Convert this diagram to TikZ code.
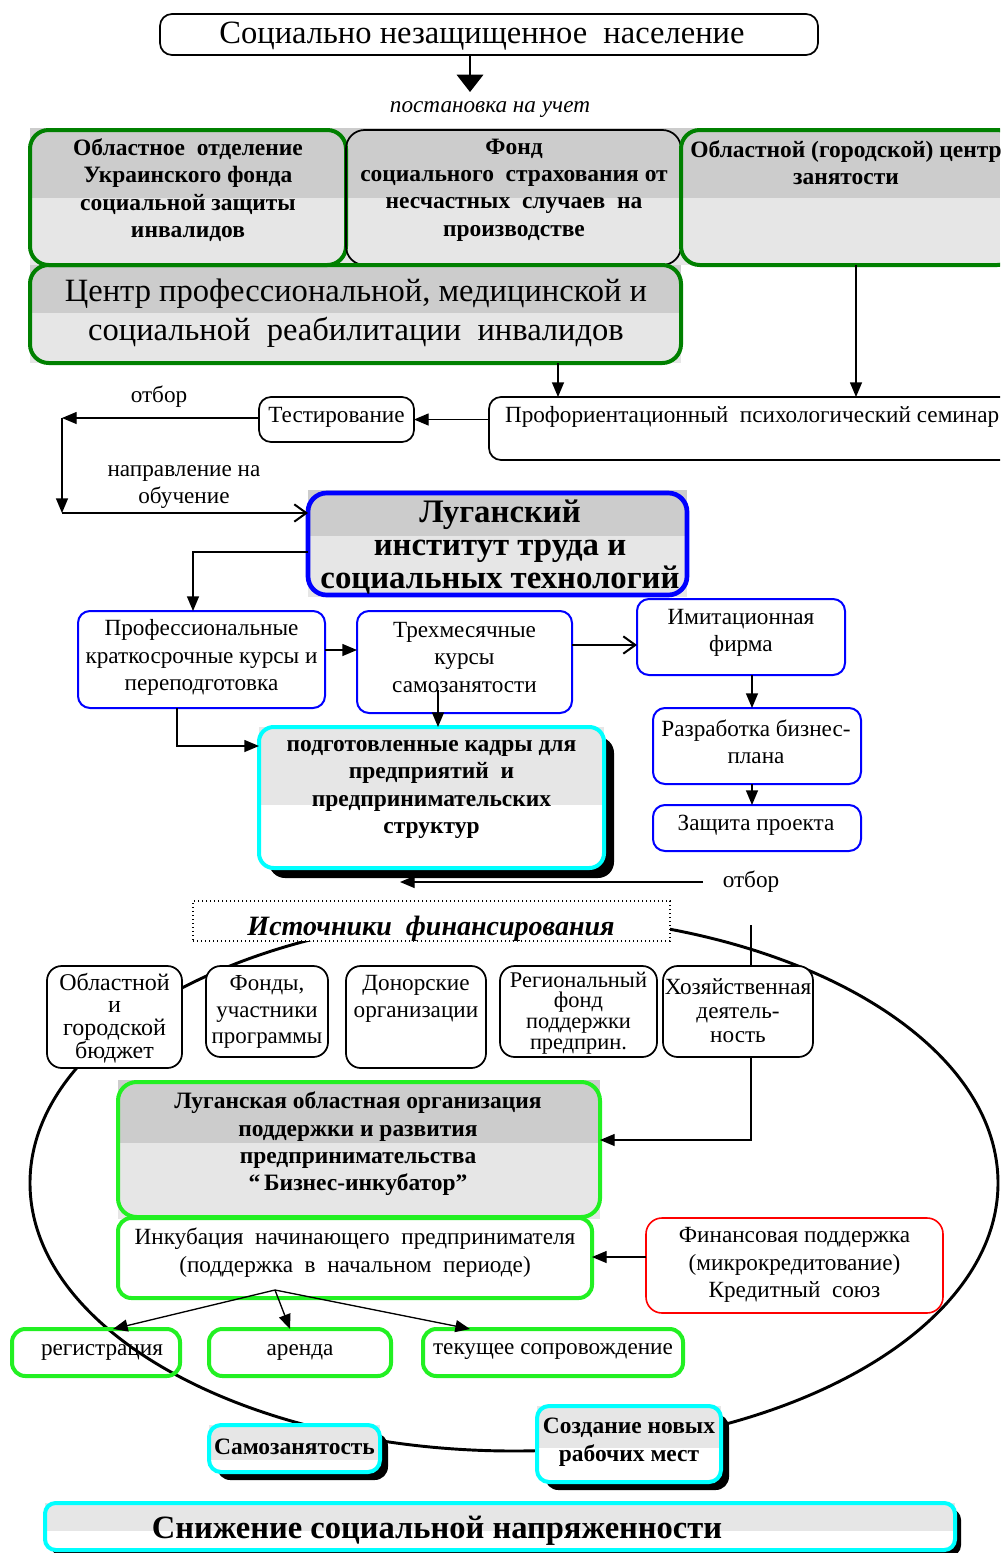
\documentclass[tikz,border=0pt]{standalone}
\usepackage{fontspec}
\setmainfont{Liberation Serif}
\usetikzlibrary{arrows.meta,calc}
\newcommand\fz[2]{\fontsize{#1}{#2}\selectfont}
\definecolor{dg}{HTML}{CCCCCC}
\definecolor{lg}{HTML}{E6E6E6}
\definecolor{dgreen}{HTML}{008000}
\definecolor{lgreen}{HTML}{22F022}
\definecolor{cy}{HTML}{00FFFF}
\definecolor{bl}{HTML}{0000FF}
\definecolor{rd}{HTML}{FF0000}
\tikzset{
  every node/.style={inner sep=0pt,outer sep=0pt},
  sz/.style 2 args={minimum width=#1*0.75pt,minimum height=#2*0.75pt},
  kbox/.style={draw=black,line width=1.3pt,rounded corners=9pt},
  ggbox/.style={draw=dgreen,line width=3pt,rounded corners=14pt},
  lgbox/.style={draw=lgreen,line width=3pt,rounded corners=10pt},
  bbox/.style={draw=bl,line width=1.5pt,rounded corners=9pt},
  cbox/.style={draw=cy,line width=3pt,rounded corners=11pt},
  arr/.style={line width=1pt,-{Triangle[length=11pt,width=9pt]}},
  oarr/.style={line width=1.5pt,-{Straight Barb[length=9pt,width=13pt,line width=1.5pt]}},
  ln/.style={line width=1pt},
  txt/.style={font=\fz{17.4}{20.5},align=center},
  btxt/.style={font=\fz{17.6}{20.5}\bfseries,align=center},
}
\begin{document}
\begin{tikzpicture}[x=0.75pt,y=-0.75pt]
\path[use as bounding box] (0,0) rectangle (1000,1553);
\clip (0,0) rectangle (1000,1553);
\fill[white] (0,0) rectangle (1000,1553);

% top
\node[kbox,sz={658}{41}] (top) at (489,34.5) {};
\node[font=\fz{24.4}{28}] (ttop) at (482,36) {Социально незащищенное\ \ население};
\coordinate (c1) at (470,92);
\draw[line width=1pt,-{Triangle[length=13pt,width=20pt]}] (top.south -| c1) -- (c1);
\node[font=\fz{17.4}{20}\itshape] (lpost) at (490,110) {постановка на учет};

% row of three
\fill[dg] (30,128) rectangle (1000,198);
\fill[lg] (30,198) rectangle (1000,265);
\fill[dg] (30,265) rectangle (681,313);
\fill[lg] (30,313) rectangle (681,363);
\node[ggbox,sz={316}{135}] (A) at (188,197.5) {};
\node[kbox,rounded corners=14pt,sz={335}{135}] (B) at (513.5,197.5) {};
\node[ggbox,sz={335}{135}] (C) at (848.5,197.5) {};
\node[btxt] (tA) at (188,190) {Областное\ \ отделение\\Украинского фонда\\социальной защиты\\инвалидов};
\node[btxt] (tB) at (514,190) {Фонд\\социального\ \ страхования от\\несчастных\ \ случаев\ \ на\\производстве};
\node[btxt] (tC) at (846,163) {Областной (городской) центр\\занятости};
\node[ggbox,sz={651}{98}] (D) at (355.5,314) {};
\node[font=\fz{24.4}{29.5},align=center] (tD) at (356,313) {Центр профессиональной, медицинской и\\социальной\ \ реабилитации\ \ инвалидов};

% seminar and testing
\node[kbox,sz={526}{63}] (sem) at (752,428.5) {};
\node[font=\fz{17.4}{20},anchor=west] (tsem) at (505,417) {Профориентационный\ \ психологический семинар};
\node[kbox,sz={155}{45}] (test) at (336.5,419.5) {};
\node[font=\fz{17.4}{20}] (ttest) at (336.5,417) {Тестирование};
\draw[arr] (D.south -| 558,0) -- (sem.north -| 558,0);
\draw[arr] (C.south -| 856,0) -- (sem.north -| 856,0);
\draw[arr] (sem.west |- test.center) -- (test.east);
\coordinate (L1) at (62,418);
\coordinate (L2) at (62,513);
\draw[arr] (test.west |- L1) -- (L1);
\draw[arr] (L1) -- (L2);
\node[font=\fz{17.4}{20}] (lotb1) at (159,397) {отбор};
\node[font=\fz{17.4}{20.5},align=center] (lnapr) at (184,487) {направление на\\обучение};

% Lugansk institute
\fill[dg] (308,490) rectangle (687,536);
\fill[lg] (308,536) rectangle (687,597);
\node[draw=bl,line width=3.5pt,rounded corners=14pt,sz={379}{102}] (lug) at (497.5,544) {};
\node[font=\fz{24.6}{24.5}\bfseries,align=center] (tlug) at (500,547) {Луганский\\институт труда и\\социальных технологий};
\draw[oarr] (L2) -- (lug.west |- L2);

% courses
\node[bbox,sz={247}{97}] (prof) at (201.5,659.5) {};
\node[txt] (tprof) at (201.5,657.5) {Профессиональные\\краткосрочные курсы и\\переподготовка};
\node[bbox,sz={215}{102}] (trex) at (464.5,662) {};
\node[txt] (ttrex) at (464.5,657.5) {Трехмесячные\\курсы\\самозанятости};
\node[bbox,sz={208}{76}] (imit) at (741,637) {};
\node[txt] (timit) at (741,633) {Имитационная\\фирма};
\node[bbox,sz={208}{76}] (razr) at (757,746) {};
\node[txt] (trazr) at (756,741.5) {Разработка бизнес-\\плана};
\node[bbox,sz={208}{46}] (zash) at (757,828) {};
\node[txt] (tzash) at (756,825) {Защита проекта};
\draw[arr] (lug.west |- 0,552) -| (prof.north -| 193,0);
\draw[arr] (prof.east |- 0,650) -- (trex.west |- 0,650);
\draw[oarr] (trex.east |- 0,645) -- (imit.west |- 0,645);
\draw[arr] (imit.south -| 752,0) -- (razr.north -| 752,0);
\draw[arr] (razr.south -| 752,0) -- (zash.north -| 752,0);

% prepared staff
\fill[black,rounded corners=12pt] (269,737) rectangle (614,878);
\fill[white,rounded corners=12pt] (259,727) rectangle (604,868);
\fill[lg] (259,727) rectangle (604,805);
\node[cbox,sz={345}{141}] (podg) at (431.5,797.5) {};
\node[btxt] (tpodg) at (431.5,789.5) {подготовленные кадры для\\предприятий\ \ и\\предпринимательских\\структур};
\coordinate (t3) at (438,690);
\draw[arr] (t3) -- (podg.north -| t3);
\draw[arr] (prof.south -| 177,0) |- (podg.west |- 0,746);
\node[font=\fz{17.4}{20}] (lotb2) at (751,882) {отбор};
\coordinate (o1) at (703,882);
\coordinate (o2) at (400,882);
\draw[arr] (o1) -- (o2);

% big ellipse
\draw[line width=2.2pt] (514,1183) ellipse [x radius=484, y radius=268];

% sources of finance
\node[draw,dotted,line width=1pt,fill=white,sz={477}{40}] (ist) at (431.5,921) {};
\node[font=\fz{21}{24}\bfseries\itshape] (tist) at (431,929) {Источники\ \ финансирования};
\node[kbox,rounded corners=11pt,fill=white,sz={135}{102}] (ob) at (114.5,1017) {};
\node[font=\fz{18}{17},align=center] (tob) at (114.5,1018) {Областной\\и\\городской\\бюджет};
\node[kbox,rounded corners=11pt,fill=white,sz={122}{91}] (fo) at (267,1011.5) {};
\node[txt,font=\fz{17.2}{20}] (tfo) at (267,1012) {Фонды,\\участники\\программы};
\node[kbox,rounded corners=11pt,fill=white,sz={140}{102}] (don) at (416,1017) {};
\node[txt,font=\fz{17.4}{20.5}] (tdon) at (416,999) {Донорские\\организации};
\node[kbox,rounded corners=11pt,fill=white,sz={157}{91}] (reg) at (578.5,1011.5) {};
\node[txt,font=\fz{16.8}{15.5}] (treg) at (578.5,1013) {Региональный\\фонд\\поддержки\\предприн.};
\node[kbox,rounded corners=11pt,fill=white,sz={150}{91}] (hz) at (738,1011.5) {};
\node[txt,font=\fz{17.4}{18}] (thz) at (738,1011) {Хозяйственная\\деятель-\\ность};
\coordinate (hzt) at (751,925);
\draw[ln] (hzt) -- (hz.north -| hzt);

% business incubator
\fill[dg] (118,1080) rectangle (600,1143);
\fill[lg] (118,1143) rectangle (600,1219);
\node[lgbox,rounded corners=14pt,sz={482}{135}] (biz) at (359,1149.5) {};
\node[btxt] (tbiz) at (358,1144) {Луганская областная организация\\поддержки и развития\\предпринимательства\\“\,Бизнес-инкубатор”};
\draw[arr] (hz.south -| hzt) |- (biz.east |- 0,1140);
\node[lgbox,fill=white,sz={474}{80}] (inc) at (355,1258) {};
\node[txt] (tinc) at (355,1252.5) {Инкубация\ \ начинающего\ \ предпринимателя\\(поддержка\ \ в\ \ начальном\ \ периоде)};
\node[draw=rd,line width=1.2pt,rounded corners=12pt,fill=white,sz={297}{95}] (fin) at (794.5,1265.5) {};
\node[txt] (tfin) at (794.5,1265) {Финансовая поддержка\\(микрокредитование)\\Кредитный\ \ союз};
\draw[arr] (fin.west |- 0,1257) -- (inc.east |- 0,1257);

% incubation services
\node[lgbox,sz={168}{47}] (regi) at (96,1352.5) {};
\node[txt] (tregi) at (102,1352) {регистрация};
\node[lgbox,fill=white,sz={182}{47}] (ar) at (300,1352.5) {};
\node[txt] (tar) at (300,1352) {аренда};
\node[lgbox,fill=white,sz={260}{47}] (tek) at (553,1352.5) {};
\node[txt] (ttek) at (553,1352) {текущее сопровождение};
\coordinate (br) at (275,1290);
\draw[arr] (br) -- (regi.north -| 113,0);
\draw[arr] (br) -- (ar.north -| 290,0);
\draw[arr] (br) -- (tek.north -| 470,0);

% results
\fill[black,rounded corners=10pt] (217,1433) rectangle (388,1480);
\fill[white,rounded corners=10pt] (209,1425) rectangle (380,1472);
\fill[lg] (209,1425) rectangle (380,1460);
\node[cbox,rounded corners=9pt,sz={171}{47}] (sam) at (294.5,1448.5) {};
\node[btxt] (tsam) at (294.5,1447) {Самозанятость};
\fill[black,rounded corners=10pt] (545,1414) rectangle (729,1490);
\fill[white,rounded corners=10pt] (537,1406) rectangle (721,1482);
\fill[lg] (537,1406) rectangle (721,1448);
\node[cbox,rounded corners=9pt,sz={184}{76}] (soz) at (629,1444) {};
\node[btxt,font=\fz{17.6}{21}\bfseries] (tsoz) at (629,1442) {Создание новых\\рабочих мест};
\fill[black,rounded corners=8pt] (51,1509) rectangle (961,1556);
\fill[white,rounded corners=8pt] (45,1503) rectangle (955,1550);
\fill[lg] (45,1503) rectangle (955,1531);
\node[cbox,rounded corners=8pt,sz={910}{47}] (sni) at (500,1526.5) {};
\node[font=\fz{24.4}{28}\bfseries] (tsni) at (437,1531) {Снижение социальной напряженности};
\end{tikzpicture}
\end{document}
